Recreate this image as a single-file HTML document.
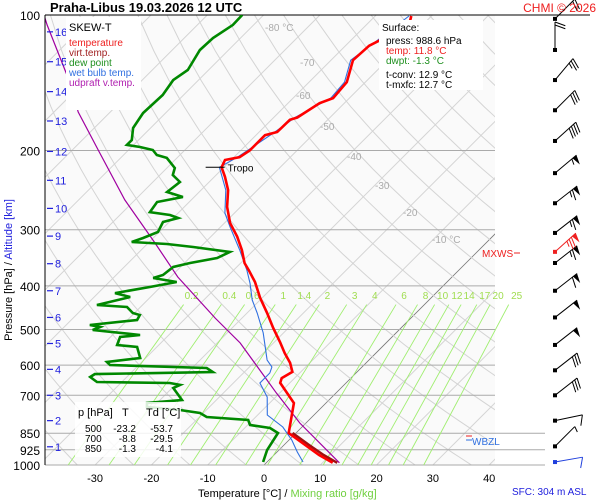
<!DOCTYPE html>
<html><head><meta charset="utf-8"><style>
body{margin:0;background:#fff;}
svg{display:block;font-family:"Liberation Sans",sans-serif;}
</style></head><body>
<svg id="c" width="600" height="500" xmlns="http://www.w3.org/2000/svg">
<defs><clipPath id="pc"><rect x="45" y="15" width="450" height="450"/></clipPath></defs>
<rect width="600" height="500" fill="#fff"/>
<rect x="45" y="15" width="450" height="450" fill="#fafafa"/>
<g id="grid" clip-path="url(#pc)"></g>
<g id="plines"></g>
<g id="mix"></g>
<g id="series" clip-path="url(#pc)"></g>
<g id="barbs"></g>
<g id="axes"></g>
<text x="50" y="12" font-size="13" font-weight="bold">Praha-Libus    19.03.2026 12 UTC</text>
<text x="596" y="12" font-size="12" fill="#ee2020" text-anchor="end">CHMI © 2026</text>
<g>
<rect x="66" y="17" width="75" height="93" fill="#fff"/>
<text x="69" y="31" font-size="11">SKEW-T</text>
<text x="69" y="46" font-size="10" fill="#ee2020">temperature</text>
<text x="69" y="56" font-size="10" fill="#a02020">virt.temp.</text>
<text x="69" y="66" font-size="10" fill="#209020">dew point</text>
<text x="69" y="76" font-size="10" fill="#3070e0">wet bulb temp.</text>
<text x="69" y="86" font-size="10" fill="#b020b0">udpraft v.temp.</text>
</g>
<g>
<rect x="379" y="20" width="104" height="70" fill="#fff"/>
<text x="382" y="31" font-size="10">Surface:</text>
<text x="386" y="44" font-size="10">press: 988.6 hPa</text>
<text x="386" y="54" font-size="10" fill="#ee2020">temp: 11.8 °C</text>
<text x="386" y="64" font-size="10" fill="#209020">dwpt: -1.3 °C</text>
<text x="386" y="78" font-size="10">t-conv: 12.9 °C</text>
<text x="386" y="88" font-size="10">t-mxfc: 12.7 °C</text>
</g>
<g>
<rect x="75" y="402" width="106" height="55" fill="#fff" opacity="0.85"/>
<text x="78" y="416" font-size="11">p [hPa]</text><text x="122" y="416" font-size="11">T</text><text x="146" y="416" font-size="11">Td [°C]</text>
<text x="85" y="432" font-size="10">500</text><text x="136" y="432" font-size="10" text-anchor="end">-23.2</text><text x="173" y="432" font-size="10" text-anchor="end">-53.7</text>
<text x="85" y="442" font-size="10">700</text><text x="136" y="442" font-size="10" text-anchor="end">-8.8</text><text x="173" y="442" font-size="10" text-anchor="end">-29.5</text>
<text x="85" y="452" font-size="10">850</text><text x="136" y="452" font-size="10" text-anchor="end">-1.3</text><text x="173" y="452" font-size="10" text-anchor="end">-4.1</text>
</g>
<text x="482" y="257" font-size="10" fill="#ee2020">MXWS</text>
<line x1="514" y1="253" x2="520" y2="253" stroke="#ee2020"/>
<line x1="466" y1="436" x2="472" y2="436" stroke="#ee2020"/>
<line x1="466" y1="440" x2="472" y2="440" stroke="#3070e0"/>
<text x="472" y="445" font-size="10" fill="#3070e0">WBZL</text>
<text x="512" y="495" font-size="10" fill="#2020dd">SFC: 304 m ASL</text>
<text x="198" y="497" font-size="11">Temperature [°C]  /  <tspan fill="#70d040">Mixing ratio [g/kg]</tspan></text>
<text transform="translate(12,270) rotate(-90)" font-size="11" text-anchor="middle">Pressure [hPa]  /  <tspan fill="#2020dd">Altitude [km]</tspan></text>
</svg>
<script>
var tempP=[988.6,950,849,728,657,641,621,593,564,533,496,459,425,392,369,356,333,311,290,267,245,229,218,210,207,200,185,182,171,169,157,153,141,126,117,114,109,100.5];
var tempT=[11.8,8.0,-1.3,-5.7,-11.7,-12.3,-11.5,-13.5,-16.2,-19.0,-22.7,-26.5,-30.4,-34.1,-37.3,-39.3,-42.1,-45.3,-49.0,-52.4,-55.2,-58.1,-60.4,-61.1,-59.0,-58.4,-58.4,-56.8,-56.7,-55.8,-54.4,-52.9,-53.3,-56.1,-55.8,-54.9,-51.5,-53.6];
var virtP=[988.6,950,900,849];
var virtT=[12.6,8.8,4.2,-0.6];
var dewP=[984.8,926.4,849.0,827.6,814.9,794.3,782.3,766.4,754.8,743.2,728.2,717.1,674.2,663.9,657.2,653.9,637.6,627.9,621.5,608.9,599.6,590.4,578.4,546.8,541.2,519.5,514.2,501.2,493.6,488.6,476.2,464.2,459.4,445.6,441.0,423.4,414.9,402.3,392.1,384.1,378.2,363.1,355.7,346.7,336.3,327.8,322.8,319.5,313.0,303.6,288.4,282.6,278.3,274.1,260.3,253.8,247.4,235.0,226.8,218.8,207.8,204.7,199.5,196.5,194.4,189.6,178.3,165.1,150.6,139.5,132.5,119.6,112.5,105.2,100];
var dewT=[-0.7,-2.1,-3.2,-5.5,-9.6,-10.8,-18.7,-20.6,-24.7,-31.1,-31.8,-26.1,-29.8,-29.1,-31.3,-44.4,-46.5,-46.2,-25.6,-27.4,-45.1,-46.2,-41.0,-43.5,-47.4,-48.3,-45.1,-54.4,-53.6,-55.8,-48.3,-48.7,-50.3,-52.4,-58.1,-53.6,-57.0,-51.9,-48.0,-52.9,-51.7,-51.3,-49.0,-45.1,-43.9,-51.3,-56.5,-63.1,-61.8,-60.2,-61.1,-59.1,-61.1,-65.2,-65.7,-62.0,-65.7,-65.2,-67.7,-68.6,-71.8,-74.1,-75.7,-78.5,-81.2,-81.2,-83.1,-84.0,-83.7,-84.5,-83.7,-85.1,-84.9,-83.7,-83.8];
var wbP=[984.8,935.7,880,823.4,774.3,706.3,657.2,624.6,605.8,584.4,508.8,483.5,459.4,429.9,394.2,368.6,332.8,295.9,275.4,245,218,207,200,182,169,153,141,126,114,100.5];
var wbT=[6.4,3.6,0.5,-3.4,-8.3,-11.5,-15.3,-15.3,-16.0,-18.1,-23.6,-25.9,-28.2,-31.4,-34.8,-37.7,-42.5,-48.3,-51.7,-55.6,-60.8,-59.4,-58.8,-57.2,-56.2,-53.3,-53.7,-56.5,-55.3,-54.0];
var parcelP=[988.6,806.7,692.9,535.6,471.3,382.2,321.1,257.6,199.5,164.3,141.6,105.2,100];
var parcelT=[13.0,-1.1,-10.5,-25.9,-34.8,-48.7,-58.8,-71.8,-85.4,-95.7,-102.3,-116.7,-119];
var tropoP=218, tropoT=-60.4;
var pressureTicks=[100,200,300,400,500,600,700,850,925,1000];
var tempTicks=[-30,-20,-10,0,10,20,30,40];
var mixRatios=[0.2,0.4,0.6,1,1.4,2,3,4,6,8,10,12,14,17,20,25];
var altKm=[1,2,3,4,5,6,7,8,9,10,11,12,13,14,15,16];
var altP=[911,797,700,613,537,470,410,357,310,269,233,201,172,148,127,109];
var barbP=[102,119.6,139.5,162.8,190.5,224.6,262,305,355.7,410,470,541,616,700,797,909,985];
var barbDir=[45,0,40,45,48,50,52,52,52,52,52,52,52,52,78,45,80];
var barbSpd=[20,20,25,30,40,55,65,65,65,60,50,50,30,30,10,5,10];
var mxwsP=336, mxwsDir=48, mxwsSpd=75;

var NS="http://www.w3.org/2000/svg";
function yP(p){return 15+450*Math.log10(p/100);}
function xT(t,p){return 264+5.63*t+(465-yP(p));}
function mk(tag,at,parent){var e=document.createElementNS(NS,tag);for(var k in at)e.setAttribute(k,at[k]);parent.appendChild(e);return e;}
var grid=document.getElementById('grid'),pl=document.getElementById('plines'),mix=document.getElementById('mix'),ser=document.getElementById('series'),bg=document.getElementById('barbs'),ax=document.getElementById('axes');

for(var t=-130;t<=40;t+=10){
  var l=mk('line',{x1:xT(t,1000),y1:465,x2:xT(t,100),y2:15,stroke:t===0?'#777':'#d4d4d4','stroke-width':t===0?0.8:1},grid);
  
  
}
for(var th=240;th<=520;th+=10){
  var pts=[];for(var p=1000;p>=100;p-=20){pts.push(xT(th*Math.pow(p/1000,0.286)-273.15,p).toFixed(1)+','+yP(p).toFixed(1));}
  var a=mk('polyline',{points:pts.join(' '),fill:'none',stroke:'#d4d4d4','stroke-width':1},grid);
  
  
}
var isoLab=[[-80,'-80 °C',265,31],[-70,'-70',300,66],[-60,'-60',296,99],[-50,'-50',320,130],[-40,'-40',347,160],[-30,'-30',375,189],[-20,'-20',403,216],[-10,'-10 °C',432,243]];
isoLab.forEach(function(d){var e=mk('text',{x:d[2],y:d[3],'font-size':10,fill:'#aaa'},grid);e.textContent=d[1];
  
  });

function tdMix(w,p){var e=w*p/(622+w);var L=Math.log(e/6.112);return 243.5*L/(17.67-L);}
mixRatios.forEach(function(w){
  var x1=xT(tdMix(w,1000),1000),x2=xT(tdMix(w,440),440);
  var l=mk('line',{x1:x1,y1:465,x2:x2,y2:yP(440),stroke:'#a0ee70','stroke-width':0.9},mix);
  
  
  var tx=mk('text',{x:x2+8,y:299,'font-size':10,fill:'#a0dd50','text-anchor':'middle'},mix);tx.textContent=String(w);
  
  
});

pressureTicks.forEach(function(p){
  var y=yP(p);var x2=p===100?590:(p>=850?545:495);
  var l=mk('line',{x1:45,y1:y,x2:x2,y2:y,stroke:p===100?'#000':'#aaa','stroke-width':1},pl);
  
  
  var tx=mk('text',{x:40,y:y+5,'font-size':12,'text-anchor':'end'},ax);tx.textContent=String(p);
  
  
});
var la=mk('line',{x1:45,y1:15,x2:45,y2:465,stroke:'#000','stroke-width':1},ax);


tempTicks.forEach(function(t){var tx=mk('text',{x:xT(t,1000),y:482,'font-size':11,'text-anchor':'middle'},ax);tx.textContent=String(t);
  
  });
altKm.forEach(function(k,i){var y=yP(altP[i]);
  var l=mk('line',{x1:47,y1:y,x2:53,y2:y,stroke:'#2020dd','stroke-width':1.2},ax);
  
  
  var tx=mk('text',{x:55,y:y+4,'font-size':11,fill:'#2020dd'},ax);tx.textContent=String(k);
  
  });

function path(P,T){return P.map(function(p,i){return xT(T[i],p).toFixed(1)+','+yP(p).toFixed(1);}).join(' ');}
var s;
s=mk('polyline',{points:path(parcelP,parcelT),fill:'none',stroke:'#a000a0','stroke-width':1.2},ser);


s=mk('polyline',{points:path(wbP,wbT),fill:'none',stroke:'#3070e0','stroke-width':1.1},ser);


s=mk('polyline',{points:path(dewP,dewT),fill:'none',stroke:'#008800','stroke-width':2.6},ser);


s=mk('polyline',{points:path(virtP,virtT),fill:'none',stroke:'#a01010','stroke-width':2.5},ser);


s=mk('polyline',{points:path(tempP,tempT),fill:'none',stroke:'#ff0000','stroke-width':2.6},ser);


var tx0=xT(tropoT,tropoP),ty0=yP(tropoP);
var tl=mk('line',{x1:tx0-16,y1:ty0,x2:tx0+3,y2:ty0,stroke:'#000'},document.getElementById('c'));


var tt=mk('text',{x:tx0+6,y:ty0+4,'font-size':10},document.getElementById('c'));tt.textContent='Tropo';



function barb(p,dir,spd,col){
  var g=mk('g',{},bg);
  
  
  var bx=555,by=yP(p),L=28,a=dir*Math.PI/180;
  var ux=Math.sin(a),uy=-Math.cos(a);
  var tx=bx+L*ux,ty=by+L*uy;
  mk('rect',{x:bx-2,y:by-2,width:4,height:4,fill:col},g);
  mk('line',{x1:bx,y1:by,x2:tx,y2:ty,stroke:col,'stroke-width':1},g);
  var r=110*Math.PI/180;var vx=ux*Math.cos(r)-uy*Math.sin(r),vy=ux*Math.sin(r)+uy*Math.cos(r);
  var d=0,rem=spd;
  while(rem>=50){var px=tx-d*ux,py=ty-d*uy;var qx=tx-(d+5)*ux,qy=ty-(d+5)*uy;
    mk('polygon',{points:px+','+py+' '+(px+10*vx)+','+(py+10*vy)+' '+qx+','+qy,fill:col},g);d+=6;rem-=50;}
  while(rem>=10){var px2=tx-d*ux,py2=ty-d*uy;mk('line',{x1:px2,y1:py2,x2:px2+11*vx,y2:py2+11*vy,stroke:col},g);d+=3;rem-=10;}
  if(rem>=5){var px3=tx-d*ux,py3=ty-d*uy;mk('line',{x1:px3,y1:py3,x2:px3+6*vx,y2:py3+6*vy,stroke:col},g);}
}
barbP.forEach(function(p,i){barb(p,barbDir[i],barbSpd[i],i===barbP.length-1?'#2040dd':'#000');});
barb(mxwsP,mxwsDir,mxwsSpd,'#ee2020');
</script>
</body></html>
